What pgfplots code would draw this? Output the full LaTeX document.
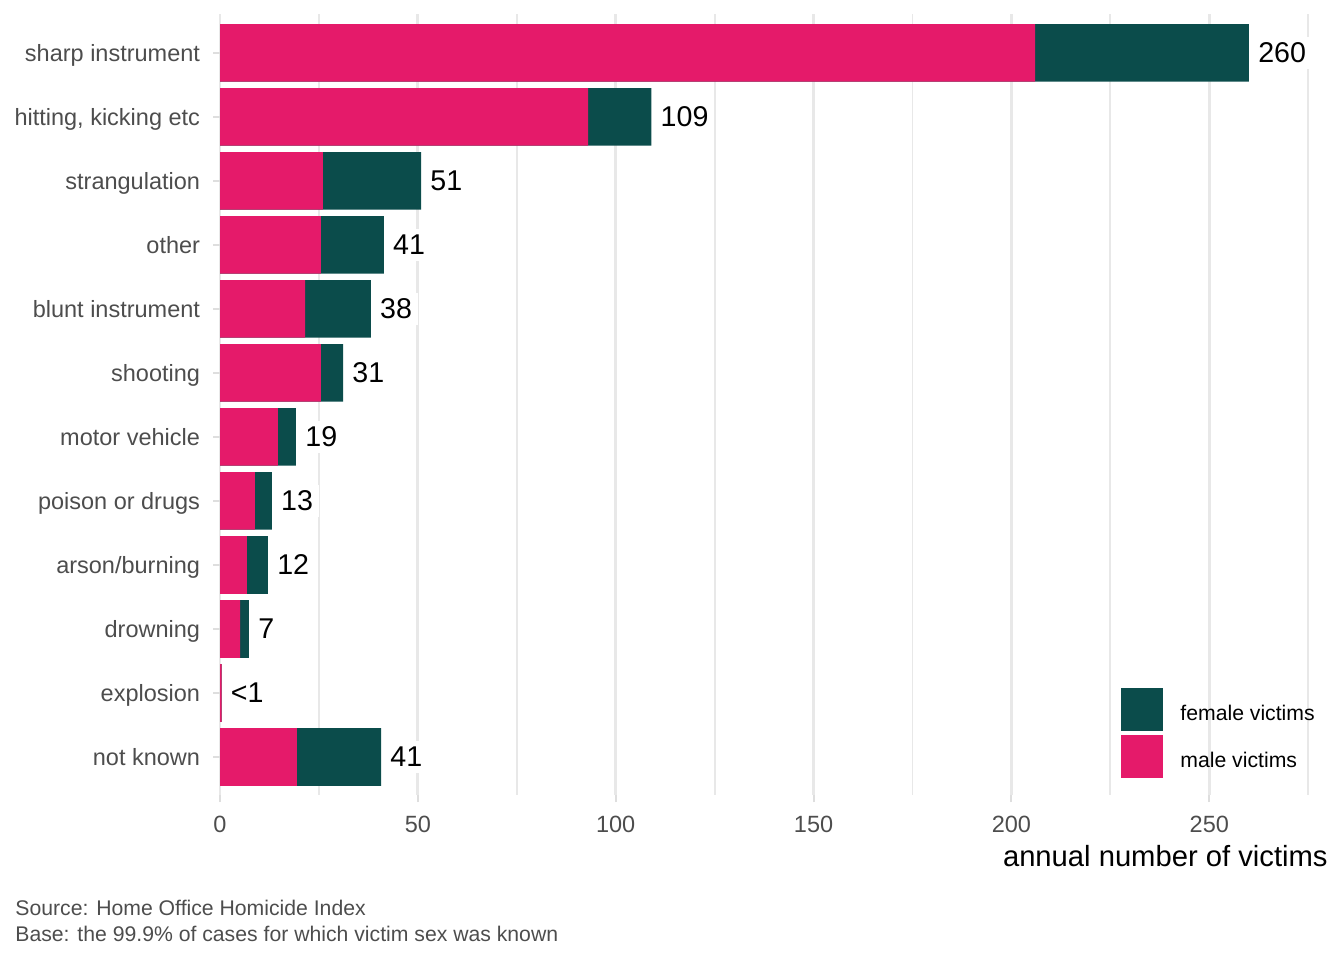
\documentclass[border=0pt]{standalone}
\usepackage{fontspec}
\setmainfont{Liberation Sans}
\usepackage{pgfplots}
\pgfplotsset{compat=1.18}
\usepackage{pgfplotstable}

\definecolor{malepink}{RGB}{229,26,106}
\definecolor{femteal}{RGB}{11,76,75}
\definecolor{gridgray}{RGB}{232,232,232}
\definecolor{tickgray}{RGB}{222,222,222}
\definecolor{ticktext}{RGB}{77,77,77}

% annual victims by method of killing: male part and all victims, with label
\pgfplotstableread{
idx male all label
0  206.0 260.0 260
1  93.0  109.0 109
2  26.0  50.8  51
3  25.5  41.4  41
4  21.5  38.1  38
5  25.5  31.1  31
6  14.6  19.2  19
7  8.8   13.1  13
8  6.8   12.1  12
9  5.1   7.3   7
10 0.4   0.4   {<1}
11 19.4  40.7  41
}\weapons

\begin{document}
\begin{tikzpicture}
\begin{axis}[
    at={(110pt,82.3pt)}, anchor=south west,
    scale only axis, width=554pt, height=390.5pt,
    xbar, bar width=0.9, bar shift=0pt,
    xmin=0, xmax=280, ymin=-0.6, ymax=11.6, y dir=reverse,
    axis line style={draw=none},
    tick align=outside, xtick pos=left, ytick pos=left,
    major tick length=3.3pt, minor tick length=0pt,
    tick style={tickgray, line width=1pt},
    xtick={0,50,...,250}, minor xtick={25,75,...,275},
    xmajorgrids, xminorgrids,
    major grid style={gridgray, line width=1.4pt},
    minor grid style={gridgray, line width=0.9pt},
    ytick={0,...,11},
    yticklabels={sharp instrument, {hitting, kicking etc}, strangulation, other,
        blunt instrument, shooting, motor vehicle, poison or drugs,
        arson/burning, drowning, explosion, not known},
    /pgf/number format/assume math mode=true,
    typeset ticklabels with strut,
    ticklabel style={font=\fontsize{11.75}{14}\selectfont, text=ticktext},
    yticklabel style={inner sep=0pt, xshift=-6.5pt, yshift=-1.5pt},
    xticklabel style={inner sep=0pt, yshift=-5pt},
    legend cell align=left,
    legend style={at={(rel axis cs:0.8132,0.1375)}, anchor=north west,
        draw=none, fill=none, inner sep=0pt, row sep=2pt,
        font=\fontsize{10.6}{12}\selectfont,
        nodes={inner sep=0pt, yshift=-1pt}, column sep=8.5pt},
    legend image code/.code={\fill[#1,draw=none] (0pt,-9.75pt) rectangle (21pt,11.75pt);},
]
\addplot[fill=femteal, draw=none,
    point meta=explicit symbolic,
    nodes near coords,
    nodes near coords style={anchor=west, fill=white, inner sep=3pt, xshift=1.5pt,
        font=\fontsize{14.3}{16}\selectfont, text=black}]
    table[x=all, y=idx, meta=label] {\weapons};
\addplot[fill=malepink, draw=none] table[x=male, y=idx] {\weapons};
\legend{female victims, male victims}
\end{axis}
\node[anchor=base east, inner sep=0pt, font=\fontsize{14.6}{17}\selectfont]
    at (664pt,47pt) {annual number of victims};
\node[anchor=base west, inner sep=0pt, text=ticktext, font=\fontsize{10.6}{12}\selectfont]
    at (7.5pt,22.5pt) {Source: Home Office Homicide Index};
\node[anchor=base west, inner sep=0pt, text=ticktext, font=\fontsize{10.6}{12}\selectfont]
    at (7.5pt,9.5pt) {Base: the 99.9\% of cases for which victim sex was known};
\pgfresetboundingbox
\useasboundingbox (0pt,0pt) rectangle (672pt,480pt);
\end{tikzpicture}
\end{document}
